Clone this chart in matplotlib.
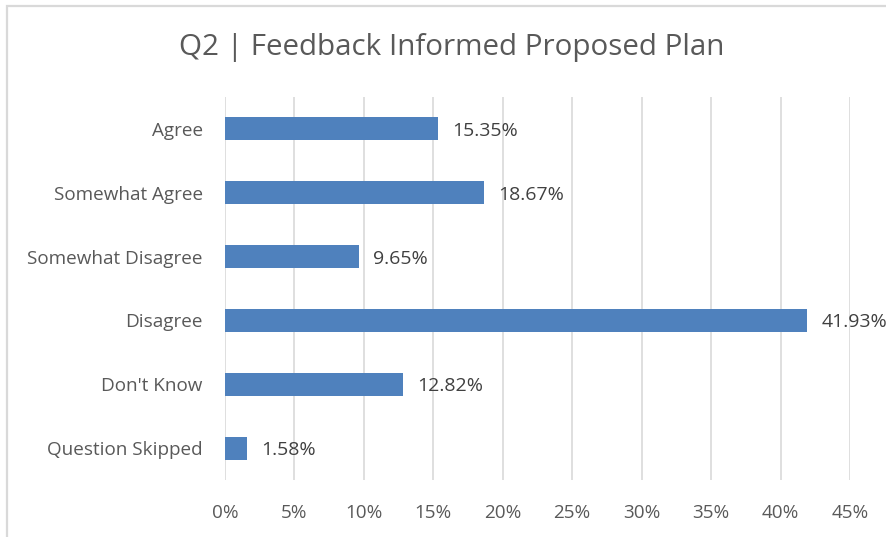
import matplotlib
matplotlib.use("Agg")
import matplotlib.pyplot as plt
from matplotlib.patches import Rectangle
from matplotlib.ticker import FuncFormatter, MultipleLocator

categories = ["Agree", "Somewhat Agree", "Somewhat Disagree", "Disagree", "Don't Know", "Question Skipped"]
values = [15.35, 18.67, 9.65, 41.93, 12.82, 1.58]
title = "Q2 | Feedback Informed Proposed Plan"

plt.rcParams['font.family'] = ['Open Sans', 'DejaVu Sans']

W, H = 887, 537
fig = plt.figure(figsize=(W / 100, H / 100), dpi=100)
fig.patch.set_facecolor("white")

# chart border (continues past right/bottom edges)
fig.patches.append(Rectangle((7 / W, -0.1), 1.2, 1 - 6 / H + 0.1, transform=fig.transFigure,
                             fill=False, edgecolor="#d9d9d9", linewidth=1.6, zorder=0))

left, right = 225 / W, 850 / W
top, bottom = 1 - 97 / H, 1 - 480 / H
ax = fig.add_axes([left, bottom, right - left, top - bottom])

y = list(range(len(categories)))
ax.barh(y, values, height=0.36, color="#4F81BD", zorder=3)
ax.set_xlim(0, 45)
ax.set_ylim(len(categories) - 0.5, -0.5)
ax.set_yticks(y)
ax.set_yticklabels(categories)
ax.xaxis.set_major_locator(MultipleLocator(5))
ax.xaxis.set_major_formatter(FuncFormatter(lambda v, p: f"{v:.0f}%"))
ax.grid(axis="x", color="#d9d9d9", linewidth=1.2, zorder=0)
for s in ax.spines.values():
    s.set_visible(False)
ax.tick_params(axis="both", length=0, labelsize=13.6, labelcolor="#595959")
ax.tick_params(axis="y", pad=16)
ax.tick_params(axis="x", pad=17)

for yi, v in zip(y, values):
    ax.annotate(f"{v:.2f}%", (v, yi), xytext=(10, 0), textcoords="offset points",
                va="center_baseline", ha="left", fontsize=14, color="#404040", annotation_clip=False)

fig.text(452 / W, 1 - 47 / H, title, ha="center", va="center", fontsize=21.3, color="#595959")

fig.savefig("out.png", dpi=100)
